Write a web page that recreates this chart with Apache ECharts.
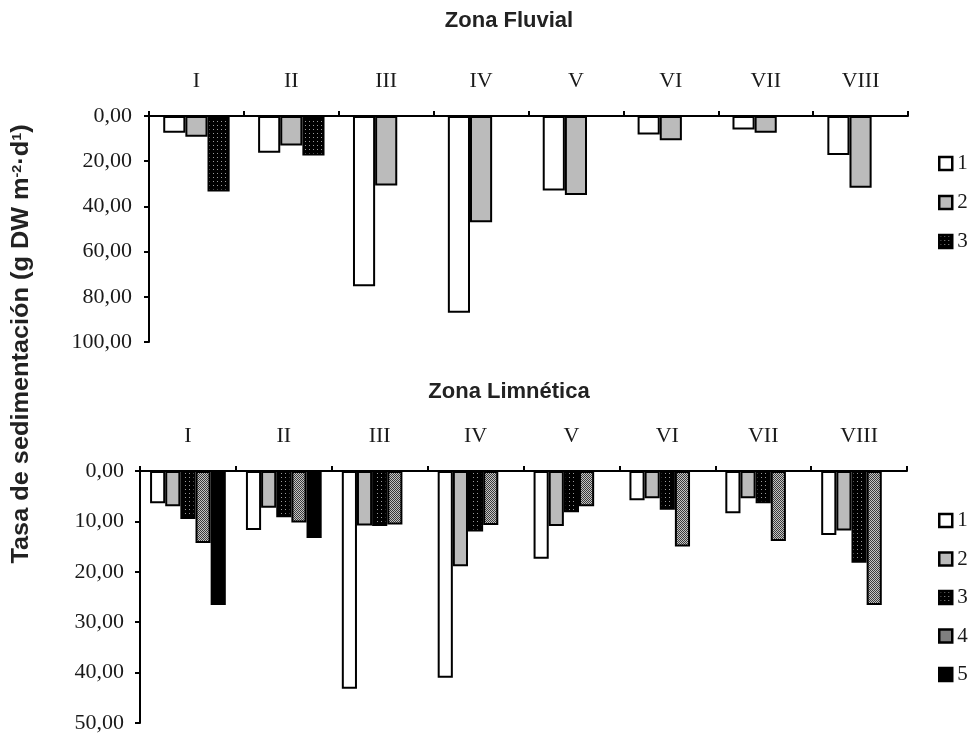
<!DOCTYPE html>
<html>
<head>
<meta charset="utf-8">
<script src="https://cdn.jsdelivr.net/npm/echarts@6/dist/echarts.min.js"></script>
<style>html,body{margin:0;padding:0;background:#fff;}#c{width:979px;height:734px;}</style>
</head>
<body>
<div id="c"></div>
<script>
const categories = ['I', 'II', 'III', 'IV', 'V', 'VI', 'VII', 'VIII'];

// Zona Fluvial
const fluvial1 = [7.4, 16.3, 75.3, 87.1, 33.0, 8.2, 6.0, 17.3];
const fluvial2 = [9.2, 13.0, 30.8, 47.0, 35.0, 10.7, 7.4, 31.8];
const fluvial3 = [33.4, 17.5, null, null, null, null, null, null];

// Zona Limnética
const limn1 = [6.4, 11.7, 43.2, 41.0, 17.4, 5.8, 8.4, 12.7];
const limn2 = [7.0, 7.3, 10.8, 18.9, 10.9, 5.4, 5.4, 11.8];
const limn3 = [9.5, 9.2, 10.9, 12.0, 8.2, 7.7, 6.4, 18.2];
const limn4 = [14.3, 10.2, 10.6, 10.7, 7.0, 15.0, 13.9, 26.6];
const limn5 = [26.6, 13.3, null, null, null, null, null, null];

const fluvialAxis = { min: 0, max: 100, interval: 20 };
const limnAxis = { min: 0, max: 50, interval: 10 };

const titleTop = 'Zona Fluvial';
const titleBottom = 'Zona Limnética';

function makeDots() {
  const c = document.createElement('canvas');
  c.width = 4; c.height = 4;
  const g = c.getContext('2d');
  g.fillStyle = '#000'; g.fillRect(0, 0, 4, 4);
  g.fillStyle = '#9a9a9a'; g.fillRect(1, 1, 1, 1);
  return c;
}
function makeHalftone() {
  const c = document.createElement('canvas');
  c.width = 2; c.height = 2;
  const g = c.getContext('2d');
  g.fillStyle = '#c4c4c4'; g.fillRect(0, 0, 2, 2);
  g.fillStyle = '#3a3a3a'; g.fillRect(0, 0, 1, 1); g.fillRect(1, 1, 1, 1);
  return c;
}
const fills = [
  '#ffffff',
  '#bbbbbb',
  { image: makeDots(), repeat: 'repeat' },
  { image: makeHalftone(), repeat: 'repeat' },
  '#000000'
];

const serif = '"Liberation Serif", "Times New Roman", serif';
const sans = '"Liberation Sans", Arial, sans-serif';
const textColor = '#1a1a1a';

function fmt(v) { return v.toFixed(2).replace('.', ','); }

function xAxis(gridIndex) {
  return {
    type: 'category', gridIndex: gridIndex, data: categories, position: 'top',
    axisLine: { lineStyle: { color: '#000', width: 2 } },
    axisTick: { show: true, length: 5, lineStyle: { color: '#000', width: 2 } },
    axisLabel: { fontFamily: serif, fontSize: 22, color: textColor, margin: 24 },
    splitLine: { show: false }
  };
}
function yAxis(gridIndex, cfg, margin) {
  return {
    type: 'value', gridIndex: gridIndex, inverse: true,
    min: cfg.min, max: cfg.max, interval: cfg.interval,
    axisLine: { show: true, lineStyle: { color: '#000', width: 2 } },
    axisTick: { show: true, length: 5, lineStyle: { color: '#000', width: 2 } },
    axisLabel: { fontFamily: serif, fontSize: 22, color: textColor, margin: margin, formatter: fmt },
    splitLine: { show: false }
  };
}
function bar(name, data, idx, axisIdx, gap) {
  return {
    name: name, type: 'bar', data: data, xAxisIndex: axisIdx, yAxisIndex: axisIdx,
    barGap: '0%', barCategoryGap: gap,
    itemStyle: { color: fills[idx], borderColor: '#000', borderWidth: 2 },
    emphasis: { disabled: true },
    animation: false
  };
}

const legendText = { fontFamily: serif, fontSize: 21, color: textColor, lineHeight: 20 };

const option = {
  animation: false,
  grid: [
    { left: 149, top: 116, width: 759, height: 226 },
    { left: 140, top: 471, width: 767, height: 254 }
  ],
  xAxis: [xAxis(0), xAxis(1)],
  yAxis: [yAxis(0, fluvialAxis, 17), yAxis(1, limnAxis, 16)],
  legend: [
    {
      data: ['F1', 'F2', 'F3'], orient: 'vertical', left: 938, top: 153, padding: 0,
      itemWidth: 13, itemHeight: 13, itemGap: 18, icon: 'rect',
      itemStyle: { borderColor: '#000', borderWidth: 2.5 },
      formatter: n => n.slice(1), textStyle: legendText, selectedMode: false
    },
    {
      data: ['L1', 'L2', 'L3', 'L4', 'L5'], orient: 'vertical', left: 938, top: 510, padding: 0,
      itemWidth: 13, itemHeight: 13, itemGap: 17.5, icon: 'rect',
      itemStyle: { borderColor: '#000', borderWidth: 2.5 },
      formatter: n => n.slice(1), textStyle: legendText, selectedMode: false
    }
  ],
  series: [
    bar('F1', fluvial1, 0, 0, '30%'),
    bar('F2', fluvial2, 1, 0, '30%'),
    bar('F3', fluvial3, 2, 0, '30%'),
    bar('L1', limn1, 0, 1, '21%'),
    bar('L2', limn2, 1, 1, '21%'),
    bar('L3', limn3, 2, 1, '21%'),
    bar('L4', limn4, 3, 1, '21%'),
    bar('L5', limn5, 4, 1, '21%')
  ],
  graphic: [
    {
      type: 'text', x: 509, y: 21,
      style: { text: titleTop, font: 'bold 22px ' + sans, fill: '#222',
        align: 'center', verticalAlign: 'middle', textAlign: 'center', textVerticalAlign: 'middle' }
    },
    {
      type: 'text', x: 509, y: 392,
      style: { text: titleBottom, font: 'bold 22px ' + sans, fill: '#222',
        align: 'center', verticalAlign: 'middle', textAlign: 'center', textVerticalAlign: 'middle' }
    },
    {
      type: 'text', x: 22, y: 344, rotation: Math.PI / 2, scaleX: 1.1,
      style: {
        text: 'Tasa de sedimentación (g DW m{s|-2}·d{s|1})',
        rich: { s: { fontSize: 13, fontWeight: 'bold', fontFamily: sans, verticalAlign: 'top', fill: '#222' } },
        font: 'bold 23px ' + sans, fill: '#222',
        align: 'center', verticalAlign: 'middle', textAlign: 'center', textVerticalAlign: 'middle'
      }
    }
  ]
};

const chart = echarts.init(document.getElementById('c'), null, { renderer: 'canvas' });
chart.setOption(option);
</script>
</body>
</html>
